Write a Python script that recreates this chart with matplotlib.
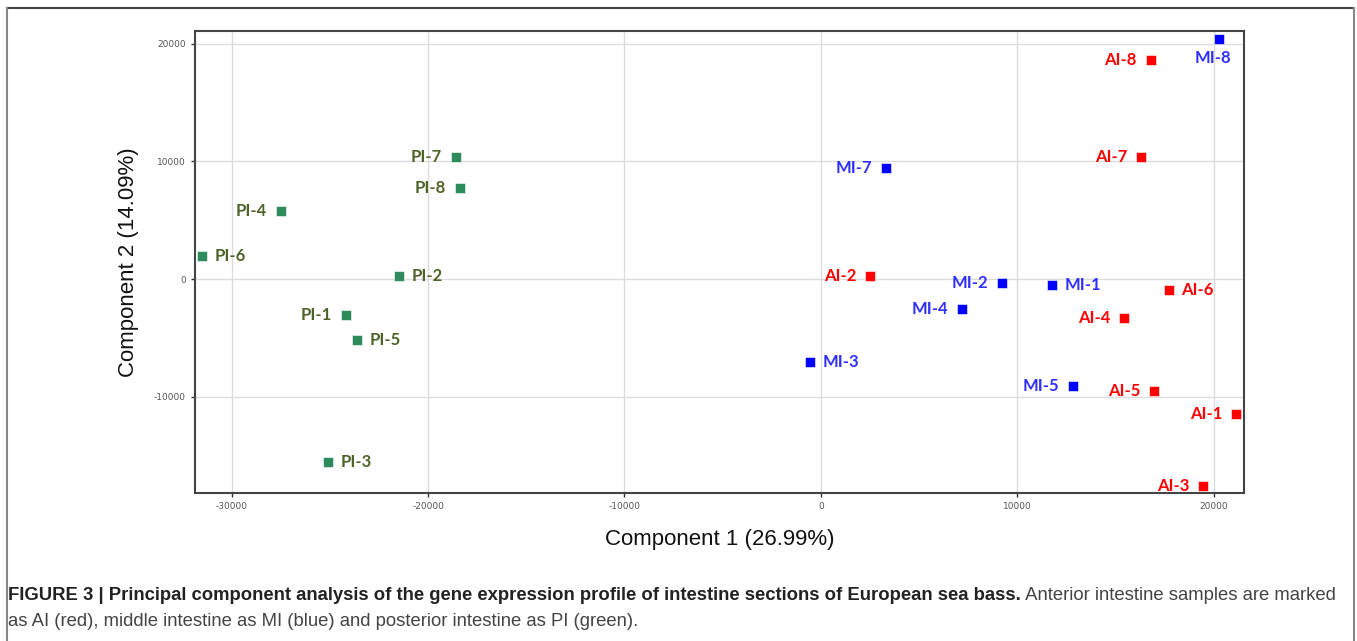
import matplotlib
matplotlib.use('Agg')
import matplotlib.pyplot as plt
from matplotlib.lines import Line2D

plt.rcParams['axes.unicode_minus'] = False

# PCA scores per sample (component 1, component 2)
pi_names = ['PI-1', 'PI-2', 'PI-3', 'PI-4', 'PI-5', 'PI-6', 'PI-7', 'PI-8']
pi_pc1 = [-24170, -21480, -25090, -27480, -23610, -31500, -18575, -18370]
pi_pc2 = [-3060, 255, -15550, 5780, -5180, 1950, 10365, 7730]

mi_names = ['MI-1', 'MI-2', 'MI-3', 'MI-4', 'MI-5', 'MI-7', 'MI-8']
mi_pc1 = [11750, 9210, -560, 7175, 12820, 3310, 20250]
mi_pc2 = [-510, -340, -7050, -2550, -9090, 9430, 20390]

ai_names = ['AI-1', 'AI-2', 'AI-3', 'AI-4', 'AI-5', 'AI-6', 'AI-7', 'AI-8']
ai_pc1 = [21120, 2490, 19440, 15420, 16950, 17710, 16285, 16790]
ai_pc2 = [-11470, 255, -17590, -3310, -9515, -935, 10365, 18600]

x_ticks = [-30000, -20000, -10000, 0, 10000, 20000]
y_ticks = [-10000, 0, 10000, 20000]

# which side each label sits on
right_side = {'PI-2', 'PI-3', 'PI-5', 'PI-6', 'MI-1', 'MI-3', 'AI-6'}
below = {'MI-8'}

fig = plt.figure(figsize=(13.57, 6.41), dpi=100)
ax = fig.add_axes([0.1437, 0.2309, 0.7730, 0.7207])

groups = [
    (pi_names, pi_pc1, pi_pc2, '#2e8b5e', '#4f6228'),
    (mi_names, mi_pc1, mi_pc2, '#0000ff', '#2f2fff'),
    (ai_names, ai_pc1, ai_pc2, '#ff0000', '#ff0000'),
]

for names, xs, ys, mcolor, tcolor in groups:
    ax.scatter(xs, ys, marker='s', s=55, color=mcolor,
               edgecolors='white', linewidths=0.4, zorder=3)
    for n, x, y in zip(names, xs, ys):
        if n in below:
            off, ha, va = (-4, -8), 'center', 'top'
        elif n in right_side:
            off, ha, va = (9, 0), 'left', 'center'
        else:
            off, ha, va = (-10, 0), 'right', 'center'
        ax.annotate(n, (x, y), xytext=off, textcoords='offset points',
                    ha=ha, va=va, color=tcolor, fontsize=12,
                    fontweight='bold', family='Lato', zorder=4)

ax.set_xlim(-31860, 21530)
ax.set_ylim(-18180, 21070)
ax.set_xticks(x_ticks)
ax.set_yticks(y_ticks)
ax.tick_params(labelsize=6.5, labelcolor='#555555', color='#333333',
               length=3, width=1)
ax.grid(True, color='#dcdcdc', lw=1)
ax.set_axisbelow(True)
for sp in ax.spines.values():
    sp.set_color('#444444')
    sp.set_linewidth(1.5)

ax.set_xlabel('Component 1 (26.99%)', fontsize=16, family='Liberation Sans',
              color='#111111', labelpad=13)
ax.set_ylabel('Component 2 (14.09%)', fontsize=16, family='Liberation Sans',
              color='#111111', labelpad=11)

# frame around the figure panel (open at the bottom)
W, H = 1357, 641
for xs, ys, c in [([7, 1354], [633, 633], '#444444'),
                  ([7, 7], [0, 633], '#888888'),
                  ([1354, 1354], [0, 633], '#888888')]:
    fig.add_artist(Line2D([x / W for x in xs], [y / H for y in ys],
                          color=c, lw=1.5))

# caption with bold lead-in
cap_font = 'Liberation Sans'
y1 = 1 - 596 / H
y2 = 1 - 621 / H
t1 = fig.text(8 / W, y1, 'FIGURE 3 | Principal component analysis of the gene '
              'expression profile of intestine sections of European sea bass.',
              fontsize=13.3, fontweight='bold', family=cap_font,
              color='#222222', va='center')
fig.canvas.draw()
bb = t1.get_window_extent(fig.canvas.get_renderer())
fig.text(bb.x1 / W, y1, ' Anterior intestine samples are marked',
         fontsize=13.3, family=cap_font, color='#444444', va='center')
fig.text(8 / W, y2, 'as AI (red), middle intestine as MI (blue) and posterior '
         'intestine as PI (green).', fontsize=13.3, family=cap_font,
         color='#444444', va='center')

fig.savefig('out.png', dpi=100)
